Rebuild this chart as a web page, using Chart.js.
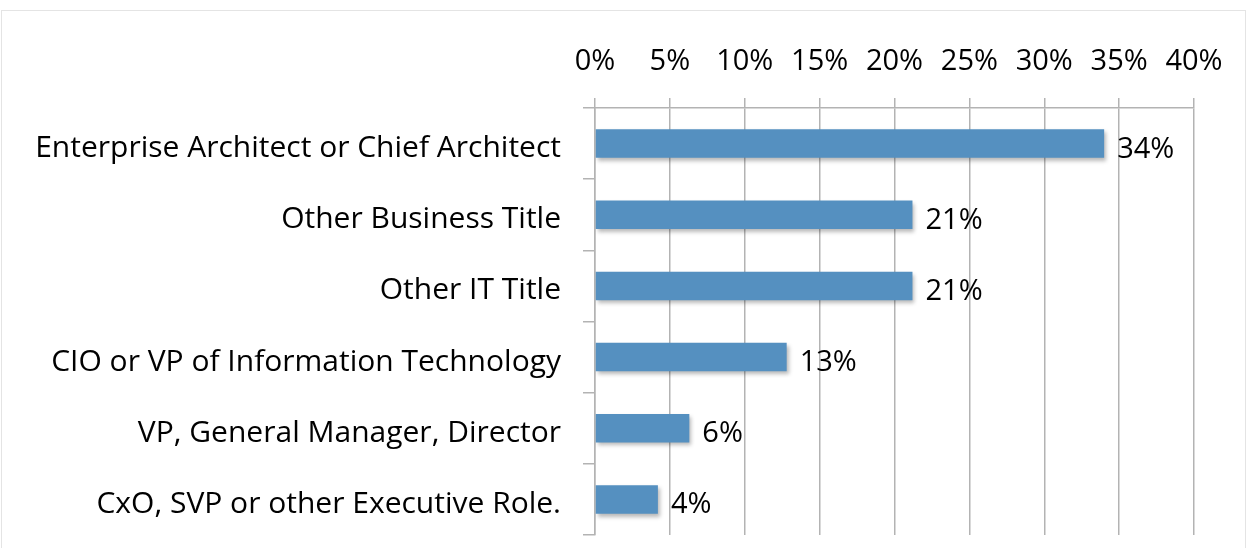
<!DOCTYPE html>
<html>
<head>
<meta charset="utf-8">
<script src="https://cdn.jsdelivr.net/npm/chart.js@4"></script>
<style>
  html, body { margin: 0; padding: 0; background: #fff; }
  #frame { position: absolute; left: 1px; top: 10px; width: 1243px; height: 540px; border: 1px solid #e4e4e4; }
  #wrap { position: absolute; left: 0; top: 0; width: 1247px; height: 548px; }
</style>
</head>
<body>
<div id="frame"></div>
<div id="wrap"><canvas id="rolesBar"></canvas></div>
<script>
const roleLabels = [
    'Enterprise Architect or Chief Architect',
    'Other Business Title',
    'Other IT Title',
    'CIO or VP of Information Technology',
    'VP, General Manager, Director',
    'CxO, SVP or other Executive Role.'
];
const roleShares = [34, 21.2, 21.2, 12.8, 6.3, 4.2];
const shareLabels = ['34%', '21%', '21%', '13%', '6%', '4%'];

const colorBar = '#5590c0';
const colorGrid = '#b3b3b3';
const fontFamily = '"Open Sans", Lato, sans-serif';

// ================ value labels + bar shadow =====================================
const barExtras = {
    id: 'barExtras',
    beforeDatasetsDraw(chart) {
        const ctx = chart.ctx;
        ctx.save();
        ctx.shadowColor = 'rgba(0,0,0,0.28)';
        ctx.shadowBlur = 4;
        ctx.shadowOffsetX = 2;
        ctx.shadowOffsetY = 3;
    },
    afterDatasetsDraw(chart) {
        const ctx = chart.ctx;
        ctx.restore();
        ctx.save();
        ctx.fillStyle = '#000';
        ctx.font = '29px ' + fontFamily;
        ctx.textAlign = 'left';
        ctx.textBaseline = 'alphabetic';
        chart.getDatasetMeta(0).data.forEach((bar, i) => {
            ctx.fillText(shareLabels[i], bar.x + 13, bar.y + 14);
        });
        ctx.restore();
    }
};

const rolesBarData = {
    type: 'bar',
    data: {
        labels: roleLabels,
        datasets: [{
            data: roleShares,
            backgroundColor: colorBar,
            barPercentage: 0.4,
            categoryPercentage: 1
        }]
    },
    options: {
        indexAxis: 'y',
        responsive: true,
        maintainAspectRatio: false,
        animation: false,
        layout: { padding: { top: 0, right: 53, bottom: 13, left: 0 } },
        plugins: {
            legend: { display: false },
            tooltip: { enabled: false }
        },
        scales: {
            x: {
                position: 'top',
                min: 0,
                max: 40,
                ticks: {
                    stepSize: 5,
                    color: '#000',
                    padding: 19,
                    font: { family: fontFamily, size: 29 },
                    callback: (v) => v + '%'
                },
                grid: { color: colorGrid, lineWidth: 1.5, tickLength: 10 },
                border: { color: colorGrid, width: 1.5 },
                afterFit: (scale) => {
                    scale.height = 108;
                    scale.paddingLeft = 0;
                    scale.paddingRight = 0;
                }
            },
            y: {
                ticks: {
                    color: '#000',
                    padding: 22,
                    labelOffset: 5,
                    font: { family: fontFamily, size: 30 }
                },
                grid: { drawOnChartArea: false, color: colorGrid, lineWidth: 1.5, tickLength: 12 },
                border: { color: colorGrid, width: 1.5 },
                afterFit: (scale) => {
                    scale.width = 595;
                    scale.paddingTop = 0;
                    scale.paddingBottom = 0;
                }
            }
        }
    },
    plugins: [barExtras]
};

const rolesBar = new Chart(document.getElementById('rolesBar'), rolesBarData);
</script>
</body>
</html>
